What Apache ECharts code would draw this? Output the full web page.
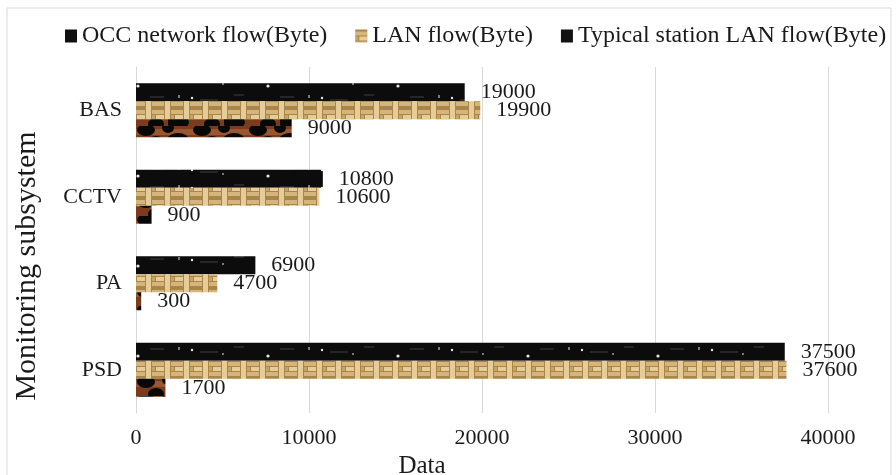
<!DOCTYPE html>
<html>
<head>
<meta charset="utf-8">
<script src="https://cdn.jsdelivr.net/npm/echarts@6/dist/echarts.min.js"></script>
<style>
  html, body { margin: 0; padding: 0; background: #fff; }
  #chart { width: 896px; height: 475px; }
</style>
</head>
<body>
<div id="chart"></div>
<script>
// 数据
var categories = ['PSD', 'PA', 'CCTV', 'BAS'];
var seriesNames = ['OCC network flow(Byte)', 'LAN flow(Byte)', 'Typical station LAN flow(Byte)'];
var occFlow = [37500, 6900, 10800, 19000];
var lanFlow = [37600, 4700, 10600, 19900];
var stationFlow = [1700, 300, 900, 9000];
var xTicks = [0, 10000, 20000, 30000, 40000];

var font = 'Liberation Serif';

// 黑色带白点纹理
function makeOccPattern() {
    var c = document.createElement('canvas');
    c.width = 130; c.height = 18;
    var g = c.getContext('2d');
    g.fillStyle = '#0c0c0c';
    g.fillRect(0, 0, 130, 18);
    g.fillStyle = '#262626';
    g.fillRect(20, 6, 14, 2);
    g.fillRect(70, 9, 18, 2);
    g.fillRect(104, 4, 10, 2);
    g.fillStyle = '#7a7a7a';
    g.fillRect(48, 5, 2, 3);
    g.fillRect(92, 11, 2, 2);
    g.fillStyle = '#e8e8e8';
    g.beginPath(); g.arc(8, 14, 1.6, 0, Math.PI * 2); g.fill();
    g.beginPath(); g.arc(62, 8, 1.2, 0, Math.PI * 2); g.fill();
    return c;
}

// 编织纹理
function makeLanPattern() {
    var c = document.createElement('canvas');
    c.width = 19; c.height = 18;
    var g = c.getContext('2d');
    g.fillStyle = '#a98549';
    g.fillRect(0, 0, 19, 18);
    g.fillStyle = '#d4b57b';
    g.fillRect(0, 2, 12, 4);
    g.fillRect(0, 12, 12, 4);
    g.fillStyle = '#e6cc98';
    g.fillRect(4, 7, 8, 4);
    g.fillRect(13, 0, 5, 18);
    g.fillStyle = '#c6a464';
    g.fillRect(0, 7, 3, 4);
    return c;
}

// 豹纹
function makeStationPattern() {
    var c = document.createElement('canvas');
    c.width = 56; c.height = 18;
    var g = c.getContext('2d');
    g.fillStyle = '#7a3c1c';
    g.fillRect(0, 0, 56, 18);
    g.fillStyle = '#9a5630';
    g.fillRect(0, 3, 56, 6);
    g.fillStyle = '#080808';
    g.beginPath(); g.ellipse(10, 14, 11, 7, 0, 0, Math.PI * 2); g.fill();
    g.beginPath(); g.ellipse(34, 4, 9, 6, 0, 0, Math.PI * 2); g.fill();
    g.beginPath(); g.ellipse(44, 16, 8, 6, 0, 0, Math.PI * 2); g.fill();
    g.beginPath(); g.ellipse(56, 2, 6, 5, 0, 0, Math.PI * 2); g.fill();
    g.beginPath(); g.ellipse(0, 2, 6, 5, 0, 0, Math.PI * 2); g.fill();
    return c;
}

var occColor = { image: makeOccPattern(), repeat: 'repeat' };
var lanColor = { image: makeLanPattern(), repeat: 'repeat' };
var stationColor = { image: makeStationPattern(), repeat: 'repeat' };

var labelStyle = {
    show: true,
    position: 'right',
    distance: 16,
    fontFamily: font,
    fontSize: 22,
    color: '#1a1a1a'
};

function barSeries(name, data, color) {
    return {
        name: name,
        type: 'bar',
        data: data,
        barWidth: 18,
        barGap: '0%',
        itemStyle: { color: color },
        label: labelStyle,
        emphasis: { disabled: true }
    };
}

var chart = echarts.init(document.getElementById('chart'));

var option = {
    backgroundColor: '#fff',
    animation: false,
    textStyle: { fontFamily: font },
    graphic: [{
        type: 'rect',
        shape: { x: 7, y: 8, width: 884, height: 490 },
        style: { fill: 'none', stroke: '#d9d9d9', lineWidth: 1 },
        silent: true
    }],
    legend: {
        left: 60,
        top: 19,
        icon: 'rect',
        itemWidth: 12,
        itemHeight: 13,
        itemGap: 28,
        textStyle: { fontFamily: font, fontSize: 24, color: '#1a1a1a' },
        data: [
            { name: seriesNames[0], itemStyle: { color: '#111' } },
            { name: seriesNames[1], itemStyle: { color: lanColor } },
            { name: seriesNames[2], itemStyle: { color: '#111' } }
        ]
    },
    grid: { left: 136, right: 68, top: 67, bottom: 62, outerBoundsMode: 'none' },
    xAxis: {
        type: 'value',
        min: xTicks[0],
        max: xTicks[xTicks.length - 1],
        interval: xTicks[1] - xTicks[0],
        name: 'Data',
        nameLocation: 'middle',
        nameGap: 36,
        nameTextStyle: { fontFamily: font, fontSize: 25, color: '#1a1a1a', padding: [0, 120, 0, 0] },
        axisLine: { show: false },
        axisTick: { show: false },
        axisLabel: {
            fontFamily: font, fontSize: 22, color: '#1a1a1a', margin: 14,
            formatter: function (v) { return String(v); }
        },
        splitLine: { lineStyle: { color: '#d9d9d9', width: 1 } }
    },
    yAxis: {
        type: 'category',
        data: categories,
        name: 'Monitoring subsystem',
        nameLocation: 'middle',
        nameGap: 94,
        nameTextStyle: { fontFamily: font, fontSize: 30, color: '#1a1a1a', padding: [0, 52, 0, 0] },
        axisLine: { show: true, lineStyle: { color: '#d9d9d9' } },
        axisTick: { show: false },
        axisLabel: { fontFamily: font, fontSize: 22, color: '#1a1a1a', margin: 14 }
    },
    series: [
        barSeries(seriesNames[0], occFlow, occColor),
        barSeries(seriesNames[1], lanFlow, lanColor),
        barSeries(seriesNames[2], stationFlow, stationColor)
    ]
};

chart.setOption(option);
</script>
</body>
</html>
